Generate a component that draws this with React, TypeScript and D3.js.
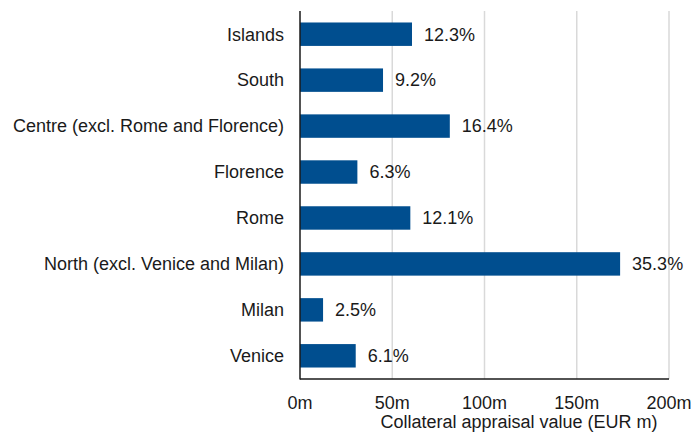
import React from "react";
import * as d3 from "d3";

const categories = [
  "Islands",
  "South",
  "Centre (excl. Rome and Florence)",
  "Florence",
  "Rome",
  "North (excl. Venice and Milan)",
  "Milan",
  "Venice",
];
const values = [60.7, 45.0, 81.2, 31.1, 59.8, 173.5, 12.5, 30.2];
const shareLabels = ["12.3%", "9.2%", "16.4%", "6.3%", "12.1%", "35.3%", "2.5%", "6.1%"];
const xTicks = [0, 50, 100, 150, 200];
const xTickLabels = ["0m", "50m", "100m", "150m", "200m"];
const xTitle = "Collateral appraisal value (EUR m)";

const W = 696;
const H = 432;
const FONT = "Liberation Sans, Arial, sans-serif";

export default function App() {
  const x = d3.scaleLinear().domain([0, 200]).range([300, 669]);
  const y = d3
    .scaleBand<string>()
    .domain(categories)
    .range([11, 379])
    .paddingInner(0.49)
    .paddingOuter(0.25);
  const bw = y.bandwidth();
  return (
    <svg
      width={W}
      height={H}
      style={{ position: "absolute", left: 0, top: 0, background: "#fff" }}
      fontFamily={FONT}
    >
      {xTicks.slice(1).map((t) => (
        <line key={t} x1={x(t)} x2={x(t)} y1={11} y2={379} stroke="#d9d9d9" strokeWidth={1.5} />
      ))}
      {categories.map((c, i) => (
        <g key={c}>
          <rect x={x(0)} y={y(c)} width={x(values[i]) - x(0)} height={bw} fill="#004e8f" />
          <text
            x={x(values[i]) + 12}
            y={(y(c) as number) + bw / 2}
            dy="0.35em"
            fontSize={18}
            fill="#1a1a1a"
          >
            {shareLabels[i]}
          </text>
          <text
            x={284}
            y={(y(c) as number) + bw / 2}
            dy="0.35em"
            textAnchor="end"
            fontSize={18}
            fill="#1a1a1a"
          >
            {c}
          </text>
        </g>
      ))}
      <line x1={x(0)} x2={x(0)} y1={11} y2={379.5} stroke="#1a1a1a" strokeWidth={1.5} />
      <line x1={x(0)} x2={x(200)} y1={379} y2={379} stroke="#1a1a1a" strokeWidth={1.5} />
      {xTicks.map((t, i) => (
        <text key={t} x={x(t)} y={409} textAnchor="middle" fontSize={18} fill="#1a1a1a">
          {xTickLabels[i]}
        </text>
      ))}
      <text x={519} y={428} textAnchor="middle" fontSize={18} fill="#1a1a1a">
        {xTitle}
      </text>
    </svg>
  );
}
